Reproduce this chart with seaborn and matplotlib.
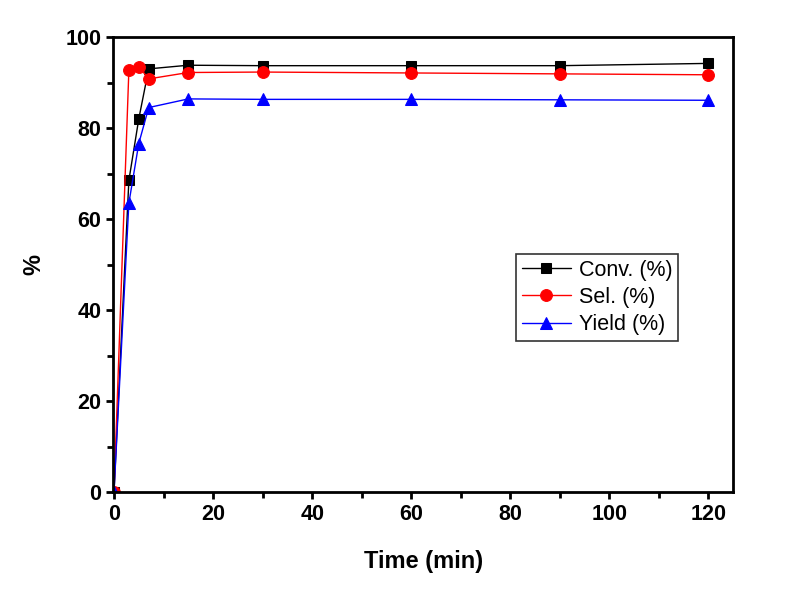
import numpy as np
import pandas as pd
import matplotlib
matplotlib.use('Agg')
import matplotlib.pyplot as plt
import seaborn as sns

# data
time_min = [0, 3, 5, 7, 15, 30, 60, 90, 120]
conv = [0, 68.5, 82.0, 93.0, 93.8, 93.7, 93.7, 93.7, 94.2]
sel = [0, 92.7, 93.5, 90.8, 92.2, 92.3, 92.1, 91.9, 91.7]
yld = [0, 63.5, 76.6, 84.5, 86.4, 86.3, 86.3, 86.2, 86.1]

series_names = ['Conv. (%)', 'Sel. (%)', 'Yield (%)']
colors = ['black', 'red', 'blue']
markers = ['s', 'o', '^']
msizes = [7.5, 8.5, 9]

df = pd.DataFrame({'time': time_min, series_names[0]: conv,
                   series_names[1]: sel, series_names[2]: yld})

sns.set_style('ticks', {'axes.edgecolor': 'black', 'xtick.color': 'black',
                        'ytick.color': 'black', 'text.color': 'black',
                        'axes.labelcolor': 'black'})
plt.rcParams['font.family'] = ['Liberation Sans', 'DejaVu Sans']

fig = plt.figure(figsize=(8.09, 5.93), dpi=100)
ax = fig.add_axes([0.1397, 0.170, 0.7666, 0.7676])

for name, c, m, ms in zip(series_names, colors, markers, msizes):
    sns.lineplot(data=df, x='time', y=name, ax=ax, color=c, marker=m,
                 markersize=ms, markeredgecolor=c, linewidth=1.0,
                 label=name, clip_on=True)

ax.set_xlim(-0.2, 125)
ax.set_ylim(0, 100)
ax.set_xticks(np.arange(0, 121, 20))
ax.set_xticks(np.arange(10, 121, 20), minor=True)
ax.set_yticks(np.arange(0, 101, 20))
ax.set_yticks(np.arange(10, 100, 20), minor=True)
ax.tick_params(which='major', direction='out', length=5, width=2,
               labelsize=15.5, colors='black')
ax.tick_params(which='minor', direction='out', length=4, width=2,
               colors='black')
for lab in ax.get_xticklabels() + ax.get_yticklabels():
    lab.set_fontweight('bold')
for sp in ax.spines.values():
    sp.set_linewidth(2)
    sp.set_color('black')
    sp.set_visible(True)

ax.set_xlabel('Time (min)', fontsize=17, fontweight='bold', labelpad=18)
ax.set_ylabel('%', fontsize=17, fontweight='bold', labelpad=14)

leg = ax.legend(loc='upper left', bbox_to_anchor=(0.650, 0.523),
                fontsize=15.5, frameon=True, fancybox=False,
                handlelength=2.3, handletextpad=0.35, borderpad=0.25,
                labelspacing=0.3, borderaxespad=0)
leg.get_frame().set_edgecolor('black')
leg.get_frame().set_linewidth(1.2)

fig.savefig('out.png', dpi=100)
